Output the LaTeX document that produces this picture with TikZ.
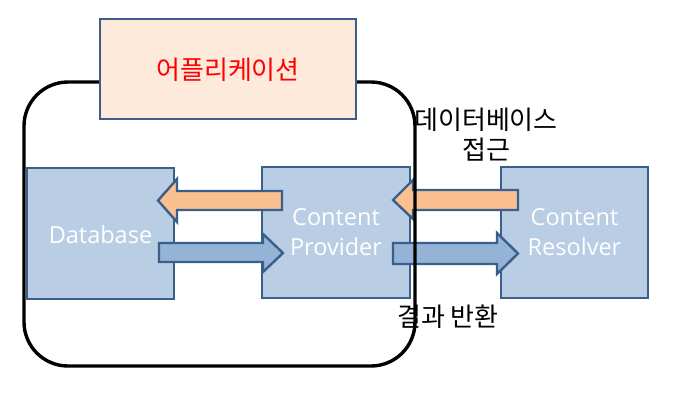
\documentclass[tikz,border=0pt]{standalone}
\usepackage{fontspec}
\setmainfont{Open Sans}
\newfontfamily\kr{Noto Sans CJK KR}
\definecolor{bfill}{HTML}{B9CDE5}
\definecolor{bline}{HTML}{3A5F8B}
\definecolor{afill}{HTML}{FDEADA}
\definecolor{ofill}{HTML}{FAC090}
\definecolor{barrow}{HTML}{95B3D7}
\begin{document}
\begin{tikzpicture}[x=1pt,y=-1pt,
  box/.style={draw=bline,line width=2.6pt,fill=bfill},
  boxtext/.style={text=white,font=\fontsize{23.5}{29.5}\selectfont,align=center},
  oarrow/.style={draw=bline,line width=2.4pt,fill=ofill,line join=miter},
  barr/.style={draw=bline,line width=2.4pt,fill=barrow,line join=miter},
  lbl/.style={font=\kr\fontsize{26}{30}\selectfont,align=center,inner sep=0pt}]
\useasboundingbox (0,0) rectangle (676,402);
% boxes
\draw[box] (27,168) rectangle (174,299);
\draw[box] (262,167) rectangle (410,298);
\draw[box] (501,167) rectangle (648,298);
\node[boxtext] (db) at (100.5,235) {Database};
\node[boxtext] (cp) at (336,232) {Content\\Provider};
\node[boxtext] (cr) at (574.5,232) {Content\\Resolver};
% arrows
\draw[oarrow] (282,191) -- (282,210) -- (177,210) -- (177,222) -- (158,200.5) -- (177,179) -- (177,191) -- cycle;
\draw[barr] (159,243) -- (263,243) -- (263,234) -- (283,253) -- (263,272) -- (263,262) -- (159,262) -- cycle;
\draw[oarrow] (518,190) -- (518,210) -- (413,210) -- (413,219) -- (393,200) -- (413,180) -- (413,190) -- cycle;
\draw[barr] (393,243) -- (497,243) -- (497,233) -- (518,253.5) -- (497,274) -- (497,264) -- (393,264) -- cycle;
% application container
\draw[line width=3.4pt,rounded corners=44pt] (24,82) rectangle (415,366);
\draw[draw=bline,line width=2.6pt,fill=afill] (100,19) rectangle (356,119);
\node[lbl,text=red] (app) at (228,70) {어플리케이션};
\node[lbl] (q) at (486,135) {데이터베이스\\접근};
\node[lbl] (r) at (448,317) {결과 반환};
\end{tikzpicture}
\end{document}
